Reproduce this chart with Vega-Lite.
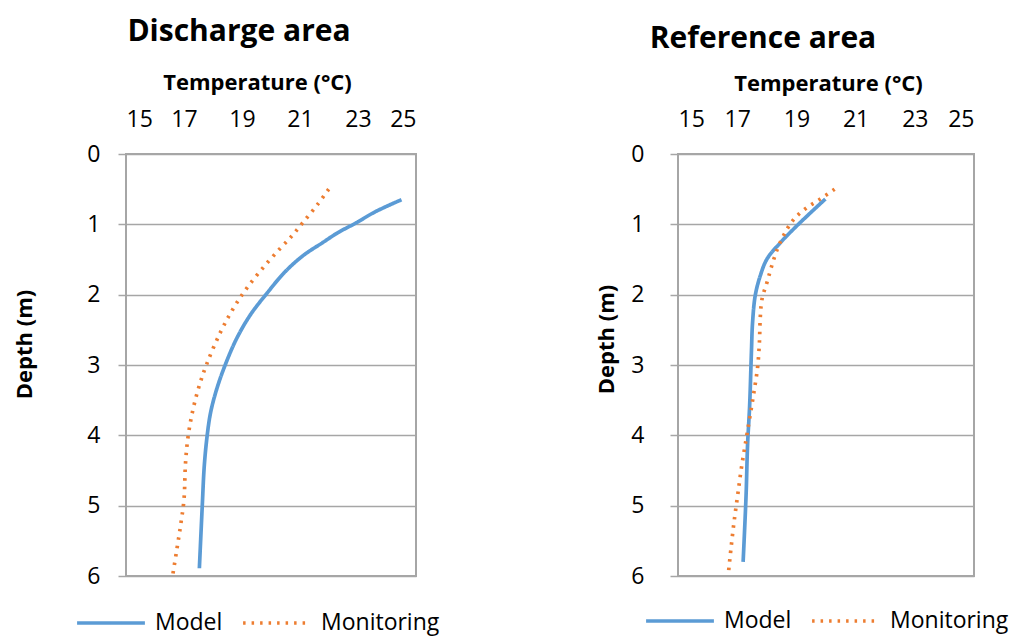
{
  "$schema": "https://vega.github.io/schema/vega-lite/v6.json",
  "padding": {"left": 12, "top": 16, "right": 0, "bottom": 0},
  "background": "white",
  "config": {
    "font": "Open Sans",
    "view": {"stroke": "#A6A6A6", "strokeWidth": 2},
    "axis": {
      "labelFont": "Open Sans", "labelFontSize": 23, "labelColor": "#000000",
      "titleFont": "Open Sans", "titleFontSize": 22, "titleFontWeight": "bold", "titleColor": "#000000",
      "gridColor": "#A6A6A6", "gridWidth": 1.5, "gridOpacity": 1,
      "tickColor": "#A6A6A6", "tickWidth": 1.5, "domainColor": "#A6A6A6"
    },
    "title": {"font": "Open Sans", "fontSize": 30, "fontWeight": "bold", "color": "#000000"},
    "legend": {
      "labelFont": "Open Sans", "labelFontSize": 23, "labelColor": "#000000",
      "padding": 0, "symbolSize": 4600, "symbolStrokeWidth": 4, "labelOffset": 8, "columnPadding": 12
    },
    "line": {"strokeWidth": 3.7}
  },
  "datasets": {
    "d": [
      {"panel": "Discharge", "series": "Model", "temp": 24.5, "depth": 0.65},
      {"panel": "Discharge", "series": "Model", "temp": 23.6, "depth": 0.82},
      {"panel": "Discharge", "series": "Model", "temp": 22.93, "depth": 0.98},
      {"panel": "Discharge", "series": "Model", "temp": 22.3, "depth": 1.12},
      {"panel": "Discharge", "series": "Model", "temp": 21.78, "depth": 1.26},
      {"panel": "Discharge", "series": "Model", "temp": 21.09, "depth": 1.45},
      {"panel": "Discharge", "series": "Model", "temp": 20.45, "depth": 1.69},
      {"panel": "Discharge", "series": "Model", "temp": 19.88, "depth": 1.97},
      {"panel": "Discharge", "series": "Model", "temp": 19.3, "depth": 2.28},
      {"panel": "Discharge", "series": "Model", "temp": 18.82, "depth": 2.62},
      {"panel": "Discharge", "series": "Model", "temp": 18.42, "depth": 3.0},
      {"panel": "Discharge", "series": "Model", "temp": 18.13, "depth": 3.34},
      {"panel": "Discharge", "series": "Model", "temp": 17.92, "depth": 3.67},
      {"panel": "Discharge", "series": "Model", "temp": 17.8, "depth": 4.0},
      {"panel": "Discharge", "series": "Model", "temp": 17.7, "depth": 4.43},
      {"panel": "Discharge", "series": "Model", "temp": 17.63, "depth": 5.0},
      {"panel": "Discharge", "series": "Model", "temp": 17.53, "depth": 5.89},
      {"panel": "Discharge", "series": "Monitoring", "temp": 21.99, "depth": 0.5},
      {"panel": "Discharge", "series": "Monitoring", "temp": 21.6, "depth": 0.72},
      {"panel": "Discharge", "series": "Monitoring", "temp": 21.09, "depth": 0.98},
      {"panel": "Discharge", "series": "Monitoring", "temp": 20.71, "depth": 1.17},
      {"panel": "Discharge", "series": "Monitoring", "temp": 20.3, "depth": 1.35},
      {"panel": "Discharge", "series": "Monitoring", "temp": 19.72, "depth": 1.62},
      {"panel": "Discharge", "series": "Monitoring", "temp": 19.16, "depth": 1.91},
      {"panel": "Discharge", "series": "Monitoring", "temp": 18.68, "depth": 2.21},
      {"panel": "Discharge", "series": "Monitoring", "temp": 18.25, "depth": 2.54},
      {"panel": "Discharge", "series": "Monitoring", "temp": 17.78, "depth": 2.99},
      {"panel": "Discharge", "series": "Monitoring", "temp": 17.5, "depth": 3.33},
      {"panel": "Discharge", "series": "Monitoring", "temp": 17.28, "depth": 3.69},
      {"panel": "Discharge", "series": "Monitoring", "temp": 17.13, "depth": 4.05},
      {"panel": "Discharge", "series": "Monitoring", "temp": 17.05, "depth": 4.41},
      {"panel": "Discharge", "series": "Monitoring", "temp": 17.0, "depth": 4.91},
      {"panel": "Discharge", "series": "Monitoring", "temp": 16.89, "depth": 5.26},
      {"panel": "Discharge", "series": "Monitoring", "temp": 16.75, "depth": 5.63},
      {"panel": "Discharge", "series": "Monitoring", "temp": 16.61, "depth": 5.99},
      {"panel": "Reference", "series": "Model", "temp": 19.98, "depth": 0.64},
      {"panel": "Reference", "series": "Model", "temp": 19.14, "depth": 0.97},
      {"panel": "Reference", "series": "Model", "temp": 18.46, "depth": 1.26},
      {"panel": "Reference", "series": "Model", "temp": 18.01, "depth": 1.49},
      {"panel": "Reference", "series": "Model", "temp": 17.78, "depth": 1.73},
      {"panel": "Reference", "series": "Model", "temp": 17.61, "depth": 2.01},
      {"panel": "Reference", "series": "Model", "temp": 17.52, "depth": 2.39},
      {"panel": "Reference", "series": "Model", "temp": 17.48, "depth": 2.82},
      {"panel": "Reference", "series": "Model", "temp": 17.42, "depth": 3.58},
      {"panel": "Reference", "series": "Model", "temp": 17.35, "depth": 4.14},
      {"panel": "Reference", "series": "Model", "temp": 17.3, "depth": 4.85},
      {"panel": "Reference", "series": "Model", "temp": 17.2, "depth": 5.8},
      {"panel": "Reference", "series": "Monitoring", "temp": 20.29, "depth": 0.5},
      {"panel": "Reference", "series": "Monitoring", "temp": 19.81, "depth": 0.64},
      {"panel": "Reference", "series": "Monitoring", "temp": 19.33, "depth": 0.77},
      {"panel": "Reference", "series": "Monitoring", "temp": 18.91, "depth": 0.93},
      {"panel": "Reference", "series": "Monitoring", "temp": 18.59, "depth": 1.14},
      {"panel": "Reference", "series": "Monitoring", "temp": 18.35, "depth": 1.36},
      {"panel": "Reference", "series": "Monitoring", "temp": 18.16, "depth": 1.6},
      {"panel": "Reference", "series": "Monitoring", "temp": 18.01, "depth": 1.82},
      {"panel": "Reference", "series": "Monitoring", "temp": 17.84, "depth": 2.06},
      {"panel": "Reference", "series": "Monitoring", "temp": 17.78, "depth": 2.32},
      {"panel": "Reference", "series": "Monitoring", "temp": 17.75, "depth": 2.68},
      {"panel": "Reference", "series": "Monitoring", "temp": 17.69, "depth": 3.03},
      {"panel": "Reference", "series": "Monitoring", "temp": 17.56, "depth": 3.4},
      {"panel": "Reference", "series": "Monitoring", "temp": 17.42, "depth": 3.76},
      {"panel": "Reference", "series": "Monitoring", "temp": 17.28, "depth": 4.11},
      {"panel": "Reference", "series": "Monitoring", "temp": 17.14, "depth": 4.47},
      {"panel": "Reference", "series": "Monitoring", "temp": 17.02, "depth": 4.84},
      {"panel": "Reference", "series": "Monitoring", "temp": 16.9, "depth": 5.21},
      {"panel": "Reference", "series": "Monitoring", "temp": 16.8, "depth": 5.57},
      {"panel": "Reference", "series": "Monitoring", "temp": 16.71, "depth": 5.93}
    ]
  },
  "spacing": 153,
  "resolve": {
    "scale": {"color": "independent", "strokeDash": "independent"},
    "legend": {"color": "independent", "strokeDash": "independent"}
  },
  "hconcat": [
    {
      "title": {"text": "Discharge area", "dx": -32, "offset": 24},
      "width": 290,
      "height": 422,
      "data": {"name": "d"},
      "transform": [{"filter": "datum.panel === 'Discharge'"}],
      "mark": {"type": "line", "interpolate": "catmull-rom"},
      "encoding": {
        "x": {
          "field": "temp", "type": "quantitative",
          "scale": {"domain": [15, 25], "nice": false, "zero": false},
          "axis": {
            "orient": "top", "values": [15, 17, 19, 21, 23, 25], "ticks": false, "domain": false, "grid": false,
            "labelPadding": 23, "title": "Temperature (°C)",
            "titleX": 131, "titleY": -65, "titleBaseline": "alphabetic", "titleAlign": "center"
          }
        },
        "y": {
          "field": "depth", "type": "quantitative",
          "scale": {"domain": [0, 6], "reverse": true, "nice": false},
          "axis": {
            "values": [0, 1, 2, 3, 4, 5, 6], "tickSize": 8, "labelPadding": 18, "domain": false,
            "title": "Depth (m)", "titleX": -95, "titleY": 190, "titleBaseline": "alphabetic", "titleAlign": "center", "titleAngle": -90
          }
        },
        "color": {
          "field": "series", "type": "nominal",
          "scale": {"domain": ["Model", "Monitoring"], "range": ["#5B9BD5", "#ED7D31"]},
          "legend": {"orient": "none", "direction": "horizontal", "title": null, "legendX": -51, "legendY": 433}
        },
        "strokeDash": {
          "field": "series", "type": "nominal",
          "scale": {"domain": ["Model", "Monitoring"], "range": [[1, 0], [2.5, 6]]},
          "legend": {"orient": "none", "direction": "horizontal", "title": null, "legendX": -51, "legendY": 433}
        },
        "order": {"field": "depth", "type": "quantitative"}
      }
    },
    {
      "title": {"text": "Reference area", "dx": -63, "offset": 18},
      "width": 296,
      "height": 422,
      "data": {"name": "d"},
      "transform": [{"filter": "datum.panel === 'Reference'"}],
      "mark": {"type": "line", "interpolate": "catmull-rom"},
      "encoding": {
        "x": {
          "field": "temp", "type": "quantitative",
          "scale": {"domain": [15, 25], "nice": false, "zero": false},
          "axis": {
            "orient": "top", "values": [15, 17, 19, 21, 23, 25], "ticks": false, "domain": false, "grid": false,
            "labelPadding": 23, "title": "Temperature (°C)",
            "titleX": 150, "titleY": -64, "titleBaseline": "alphabetic", "titleAlign": "center"
          }
        },
        "y": {
          "field": "depth", "type": "quantitative",
          "scale": {"domain": [0, 6], "reverse": true, "nice": false},
          "axis": {
            "values": [0, 1, 2, 3, 4, 5, 6], "tickSize": 8, "labelPadding": 26, "domain": false,
            "title": "Depth (m)", "titleX": -65, "titleY": 185, "titleBaseline": "alphabetic", "titleAlign": "center", "titleAngle": -90
          }
        },
        "color": {
          "field": "series", "type": "nominal",
          "scale": {"domain": ["Model", "Monitoring"], "range": ["#5B9BD5", "#ED7D31"]},
          "legend": {"orient": "none", "direction": "horizontal", "title": null, "legendX": -34, "legendY": 431}
        },
        "strokeDash": {
          "field": "series", "type": "nominal",
          "scale": {"domain": ["Model", "Monitoring"], "range": [[1, 0], [2.5, 6]]},
          "legend": {"orient": "none", "direction": "horizontal", "title": null, "legendX": -34, "legendY": 431}
        },
        "order": {"field": "depth", "type": "quantitative"}
      }
    }
  ]
}
